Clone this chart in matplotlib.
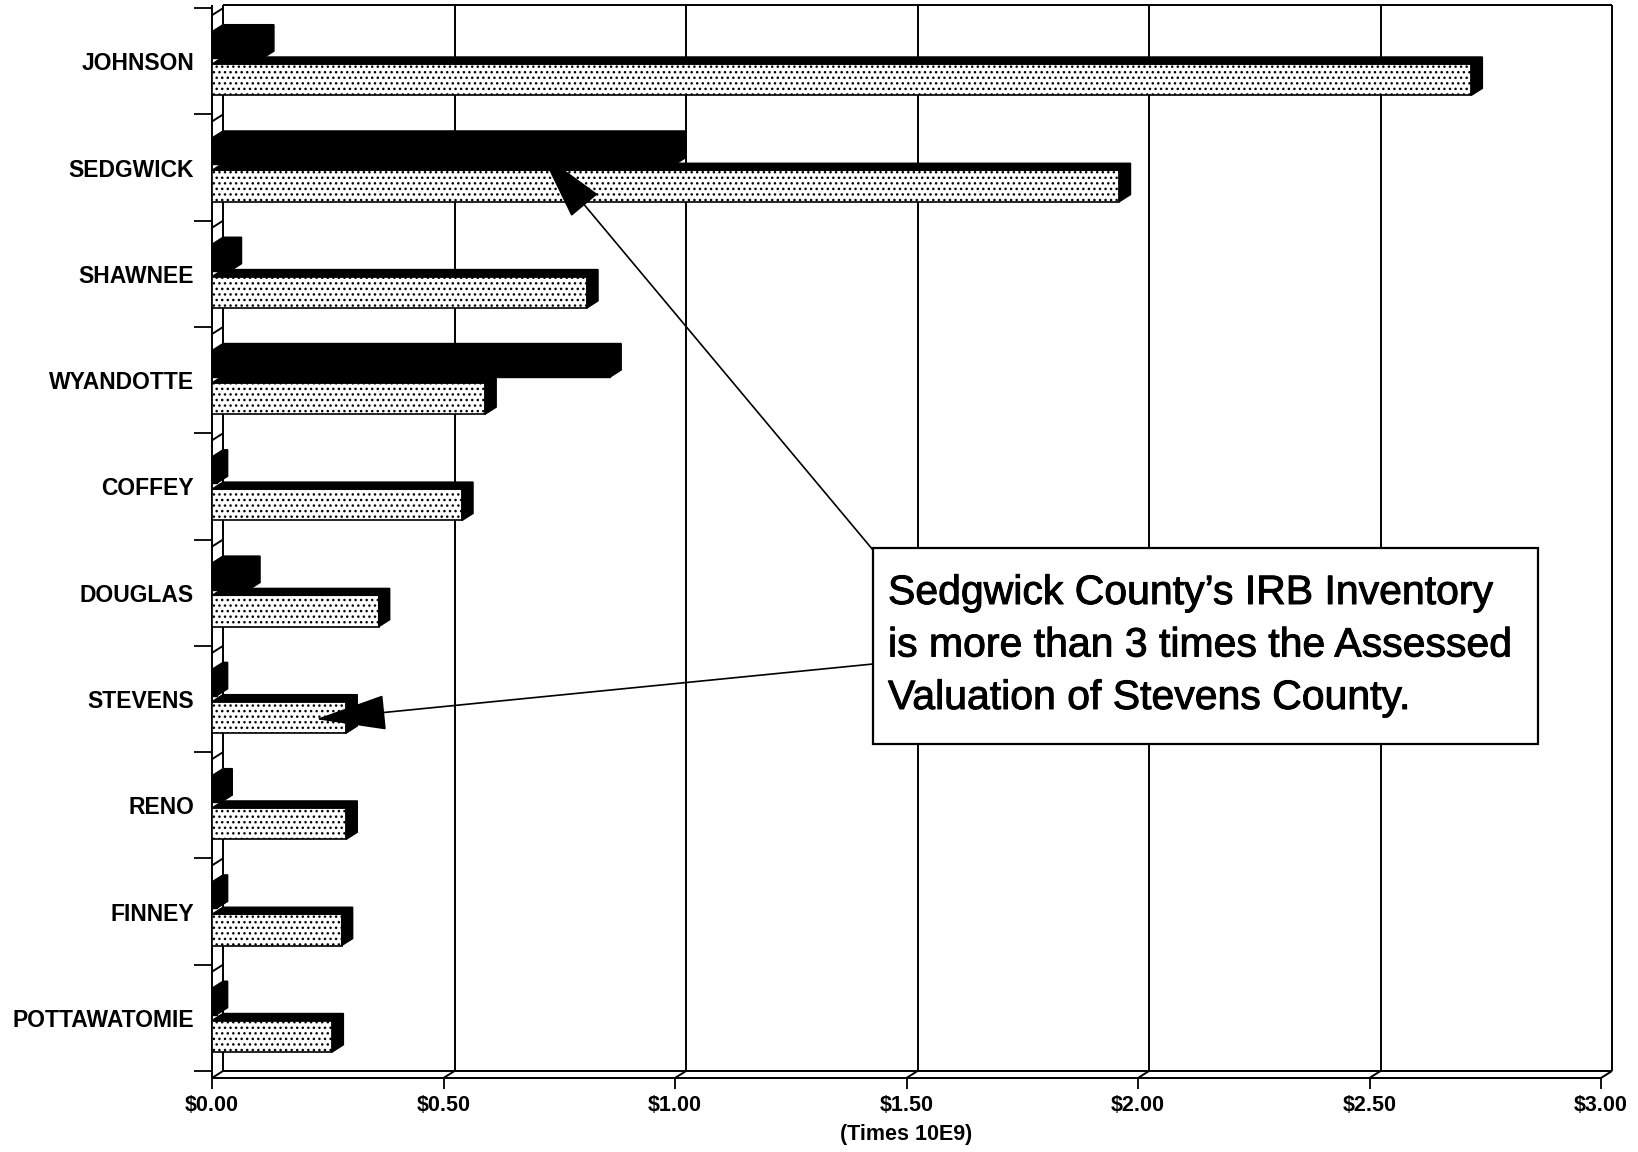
import numpy as np
import matplotlib.pyplot as plt
import matplotlib.patheffects as pe
from matplotlib.patches import Polygon, Rectangle

# Values in billions of dollars
counties = ['JOHNSON', 'SEDGWICK', 'SHAWNEE', 'WYANDOTTE', 'COFFEY',
            'DOUGLAS', 'STEVENS', 'RENO', 'FINNEY', 'POTTAWATOMIE']
irb_inventory = [0.11, 1.00, 0.04, 0.86, 0.01, 0.08, 0.01, 0.02, 0.01, 0.01]
assessed_valuation = [2.72, 1.96, 0.81, 0.59, 0.54, 0.36, 0.29, 0.29, 0.28, 0.26]
xticks = [0.0, 0.5, 1.0, 1.5, 2.0, 2.5, 3.0]
xtick_labels = ['$0.00', '$0.50', '$1.00', '$1.50', '$2.00', '$2.50', '$3.00']
note_lines = ["Sedgwick County\u2019s IRB Inventory",
              "is more than 3 times the Assessed",
              "Valuation of Stevens County."]

plt.rcParams['font.family'] = ['Liberation Sans', 'DejaVu Sans']
plt.rcParams['hatch.linewidth'] = 1.0

W, H = 1638, 1152
fig = plt.figure(figsize=(W / 100, H / 100), dpi=100)
ax = fig.add_axes([212 / W, 1 - 1078 / H, (1601 - 212) / W, (1078 - 5) / H])

# depth of the fake 3d effect, in data units
DX, DY = 0.0238, 0.066
TOP = 10.03
ax.set_xlim(0, 3)
ax.set_ylim(-DY, TOP)
for s in ax.spines.values():
    s.set_visible(False)

# back wall, left wall, floor and grid
line = dict(color='black', lw=1.4, clip_on=False, zorder=1, solid_capstyle='butt')
ax.plot([DX, 3 + DX], [TOP, TOP], **line)
ax.plot([3 + DX, 3 + DX], [0, TOP], **line)
ax.plot([DX, DX], [0, TOP], **line)
ax.plot([0, 0], [-DY, TOP], **line)
for v in xticks[1:-1]:
    ax.plot([v + DX, v + DX], [0, TOP], **line)
ax.plot([DX, 3 + DX], [0, 0], **line)
ax.plot([0, 3], [-DY, -DY], **line)
for v in xticks:
    ax.plot([v, v + DX], [-DY, 0], **line)
for k in range(1, 11):
    ax.plot([0, DX], [k - DY, k], **line)

n = len(counties)
tops = 10 - np.arange(n)

# IRB inventory (solid black, behind)
bk_lo = tops - 0.47
bk_hi = tops - 0.155 - DY
ax.barh(bk_lo, irb_inventory, height=bk_hi - bk_lo, align='edge',
        facecolor='black', edgecolor='black', lw=1.0, zorder=2)
for v, y0, y1 in zip(irb_inventory, bk_lo, bk_hi):
    ax.add_patch(Polygon([(0, y1), (v, y1), (v, y0), (v + DX, y0 + DY),
                          (v + DX, y1 + DY), (DX, y1 + DY)],
                         closed=True, facecolor='black', edgecolor='black',
                         lw=1.0, zorder=2))

# assessed valuation (dotted, in front)
dt_lo = tops - 0.82
dt_hi = tops - 0.525
ax.barh(dt_lo, assessed_valuation, height=dt_hi - dt_lo, align='edge',
        facecolor='white', edgecolor='black', hatch='...', lw=1.2, zorder=3)
for v, y0, y1 in zip(assessed_valuation, dt_lo, dt_hi):
    ax.add_patch(Polygon([(0, y1), (v, y1), (v, y0), (v + DX, y0 + DY),
                          (v + DX, y1 + DY), (DX, y1 + DY)],
                         closed=True, facecolor='black', edgecolor='black',
                         lw=1.0, zorder=3))

# axes ticks and labels
ax.set_yticks(range(11))
ax.set_yticklabels([])
ax.set_yticks(tops - 0.5, minor=True)
ax.set_yticklabels(counties, minor=True, fontsize=16.5, fontweight='bold')
ax.tick_params(axis='y', which='major', direction='out', length=13, width=1.3)
ax.tick_params(axis='y', which='minor', length=0, pad=13)

ax.set_xticks(xticks)
ax.set_xticklabels(xtick_labels, fontsize=15.5, fontweight='bold')
ax.tick_params(axis='x', direction='out', length=8, width=1.3, pad=4)
ax.set_xlabel('(Times 10E9)', fontsize=15.5, fontweight='bold', labelpad=6)

# callout box and arrows (mutation_scale in points: 14.4 pt = 20 px)
arrow = dict(arrowstyle='-|>,head_length=3.2,head_width=0.8',
             mutation_scale=14.4, lw=1.2, color='black', shrinkA=0, shrinkB=0)
ax.annotate('', xy=(0.71, 8.64), xycoords='data',
            xytext=(873 / W, 1 - 550 / H), textcoords='figure fraction',
            arrowprops=arrow, zorder=10)
ax.annotate('', xy=(0.225, 3.31), xycoords='data',
            xytext=(873 / W, 1 - 664 / H), textcoords='figure fraction',
            arrowprops=arrow, zorder=10)

fig.add_artist(Rectangle((873 / W, 1 - 744 / H), (1538 - 873) / W, (744 - 548) / H,
                         transform=fig.transFigure, facecolor='white',
                         edgecolor='black', lw=1.6, zorder=11))
for i, txt in enumerate(note_lines):
    fig.text(888 / W, 1 - (604 + 52.5 * i) / H, txt, fontsize=29.5,
             va='baseline', ha='left', zorder=12,
             path_effects=[pe.withStroke(linewidth=0.7, foreground='black')])

fig.savefig('out.png', dpi=100, facecolor='white')
